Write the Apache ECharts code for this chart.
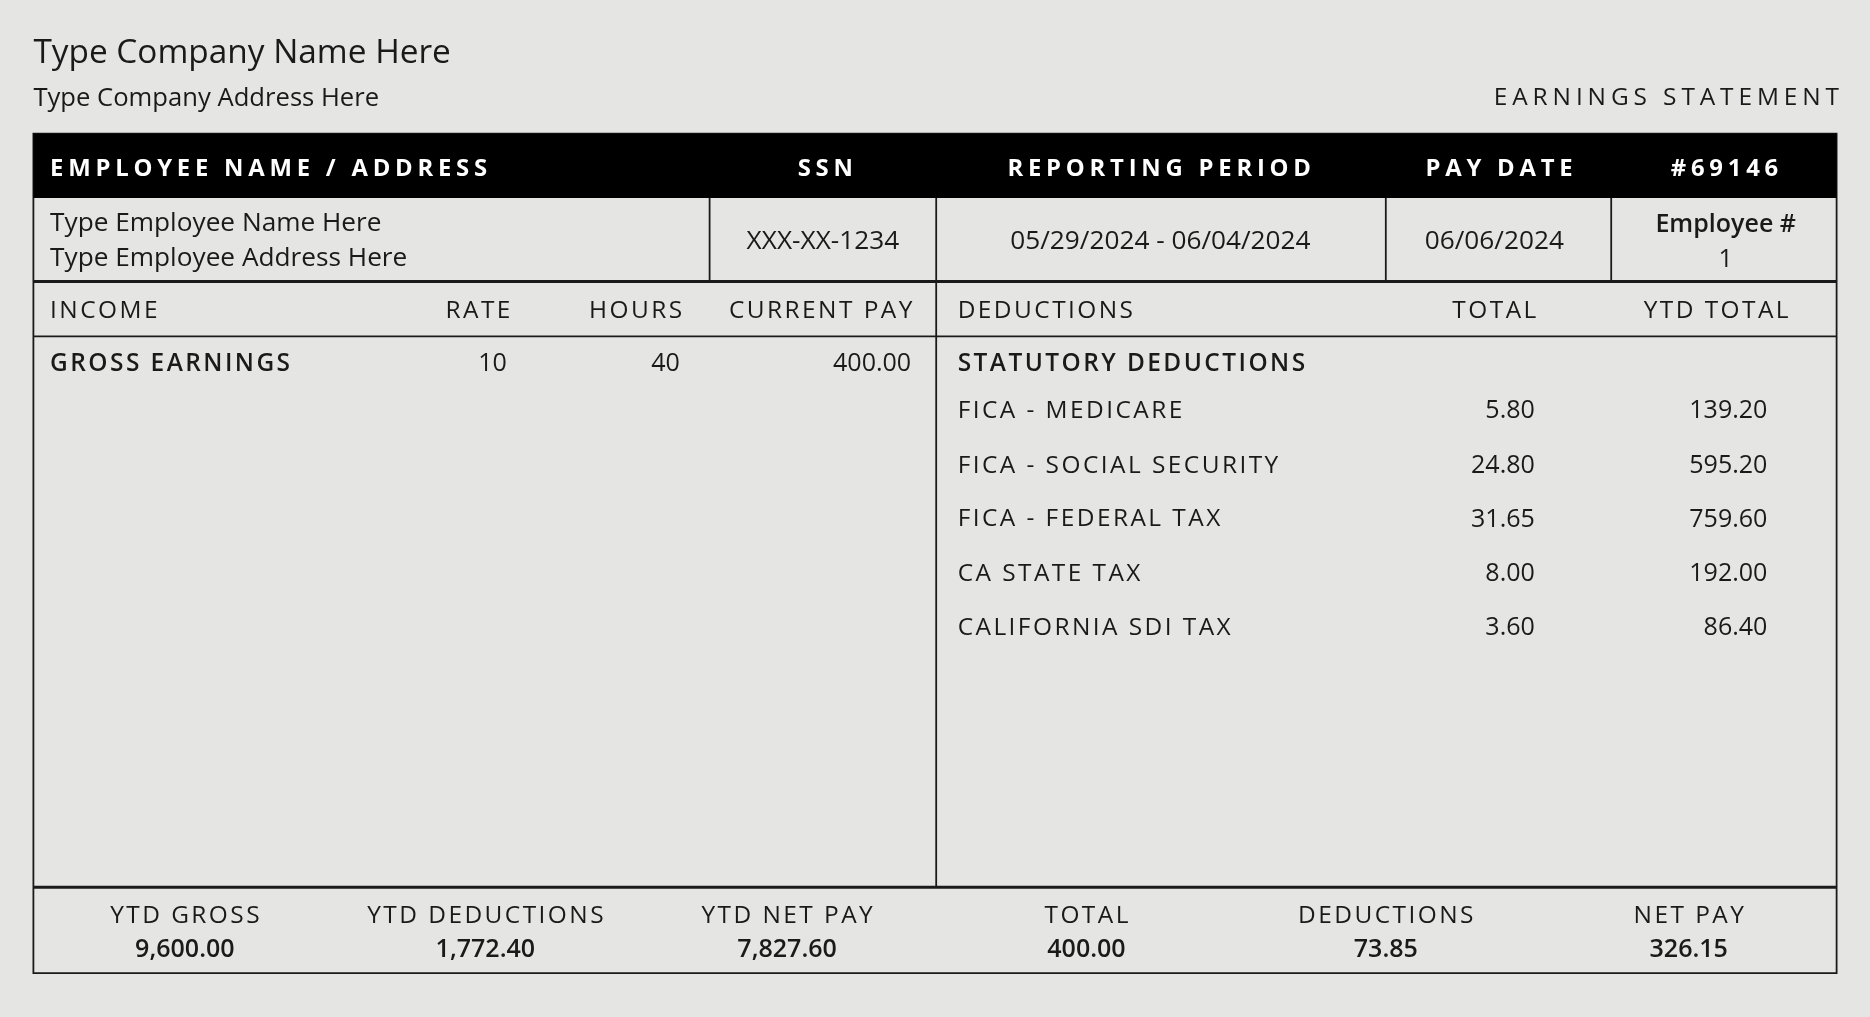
<!DOCTYPE html>
<html>
<head>
<meta charset="utf-8">
<script src="https://cdn.jsdelivr.net/npm/echarts@6/dist/echarts.min.js"></script>
<style>
  html, body { margin: 0; padding: 0; background: #e5e6e4; }
  #main { width: 1870px; height: 1017px; }
</style>
</head>
<body>
<div id="main"></div>
<script>
// stub data
const companyName = 'Type Company Name Here';
const companyAddress = 'Type Company Address Here';
const headerLabels = ['EMPLOYEE NAME / ADDRESS', 'SSN', 'REPORTING PERIOD', 'PAY DATE', '#69146'];
const employeeInfo = ['Type Employee Name Here', 'Type Employee Address Here'];
const infoValues = ['XXX-XX-1234', '05/29/2024 - 06/04/2024', '06/06/2024'];
const employeeNo = ['Employee #', '1'];
const incomeHeads = ['INCOME', 'RATE', 'HOURS', 'CURRENT PAY'];
const incomeRow = ['GROSS EARNINGS', '10', '40', '400.00'];
const deductionHeads = ['DEDUCTIONS', 'TOTAL', 'YTD TOTAL'];
const deductionNames = ['FICA - MEDICARE', 'FICA - SOCIAL SECURITY', 'FICA - FEDERAL TAX', 'CA STATE TAX', 'CALIFORNIA SDI TAX'];
const deductionTotals = ['5.80', '24.80', '31.65', '8.00', '3.60'];
const deductionYtd = ['139.20', '595.20', '759.60', '192.00', '86.40'];
const summaryLabels = ['YTD GROSS', 'YTD DEDUCTIONS', 'YTD NET PAY', 'TOTAL', 'DEDUCTIONS', 'NET PAY'];
const summaryValues = ['9,600.00', '1,772.40', '7,827.60', '400.00', '73.85', '326.15'];

const s = 1870 / 1568;
const FONT = '"Open Sans", "Noto Sans", sans-serif';
const INK = '#1a1a1a';
const spaced = (str, n) => str.split('').join('\u200A'.repeat(n || 1));

const els = [];
const txt = (t, x, y, opt) => {
    opt = opt || {};
    els.push({
        type: 'text', x: x * s, y: (y + 1.5) * s, silent: true,
        style: {
            text: t, fill: opt.fill || INK, font: (opt.weight || 400) + ' ' + (opt.size || 21) * s + 'px ' + FONT,
            textAlign: opt.align || 'left', textVerticalAlign: 'middle'
        }
    });
};
const line = (x1, y1, x2, y2, w) => els.push({
    type: 'line', silent: true, shape: { x1: x1 * s, y1: y1 * s, x2: x2 * s, y2: y2 * s },
    style: { stroke: INK, lineWidth: (w || 1.5) * s }
});

// title block
txt(companyName, 28, 43, { size: 28, weight: 500 });
txt(companyAddress, 28, 81, { size: 21.5 });
txt(spaced('EARNINGS STATEMENT', 2), 1542, 81, { size: 20.5, weight: 500, align: 'right' });

// frame
els.push({ type: 'rect', silent: true, shape: { x: 28 * s, y: 112 * s, width: 1512 * s, height: 704 * s },
    style: { fill: 'none', stroke: INK, lineWidth: 1.5 * s } });
els.push({ type: 'rect', silent: true, shape: { x: 28 * s, y: 112 * s, width: 1512 * s, height: 54 * s },
    style: { fill: '#000' } });

const headX = [42, 692, 972, 1257, 1446];
headerLabels.forEach((h, i) => txt(spaced(h, 2), headX[i], 140,
    { size: 20, weight: 700, fill: '#fff', align: i === 0 ? 'left' : 'center' }));

// employee info row
[595, 785, 1162, 1351].forEach(x => line(x, 166, x, 236));
txt(employeeInfo[0], 42, 186, { size: 22 });
txt(employeeInfo[1], 42, 215, { size: 22 });
[690, 973, 1253].forEach((x, i) => txt(infoValues[i], x, 201, { size: 22, align: 'center' }));
txt(employeeNo[0], 1447, 187, { size: 21, weight: 600, align: 'center' });
txt(employeeNo[1], 1447, 216, { size: 21, align: 'center' });
line(28, 236, 1540, 236, 2.5);

// column headers
const incX = [42, 428, 572, 765];
incomeHeads.forEach((h, i) => txt(spaced(h, 1), incX[i], 259, { size: 20.5, weight: 500, align: i === 0 ? 'left' : 'right' }));
const dedX = [803, 1253, 1439];
deductionHeads.forEach((h, i) => txt(spaced(h, 1), dedX[i], 259, { size: 20.5, weight: 500, align: i === 0 ? 'left' : 'center' }));
line(28, 282, 1540, 282);
line(785, 236, 785, 744);

// income rows
const incValX = [42, 425, 570, 764];
incomeRow.forEach((v, i) => txt(i === 0 ? spaced(v, 1) : v, incValX[i], 304,
    { size: i === 0 ? 20.5 : 21, weight: i === 0 ? 600 : 400, align: i === 0 ? 'left' : 'right' }));

// deductions
txt(spaced('STATUTORY DEDUCTIONS', 1), 803, 304, { size: 20.5, weight: 600 });
const rowY = [343, 389, 434, 480, 525];
deductionNames.forEach((n, i) => {
    txt(spaced(n, 1), 803, rowY[i], { size: 20.5 });
    txt(deductionTotals[i], 1287, rowY[i], { size: 21, align: 'right' });
    txt(deductionYtd[i], 1482, rowY[i], { size: 21, align: 'right' });
});

// summary
line(28, 744, 1540, 744, 2.5);
const sumX = [155, 407, 660, 911, 1162, 1416];
summaryLabels.forEach((l, i) => {
    txt(spaced(l, 1), sumX[i], 767, { size: 20.5, align: 'center' });
    txt(summaryValues[i], sumX[i], 795, { size: 21, weight: 600, align: 'center' });
});

const chart = echarts.init(document.getElementById('main'));
chart.setOption({ backgroundColor: '#e5e6e4', animation: false, graphic: { elements: els } });
</script>
</body>
</html>
